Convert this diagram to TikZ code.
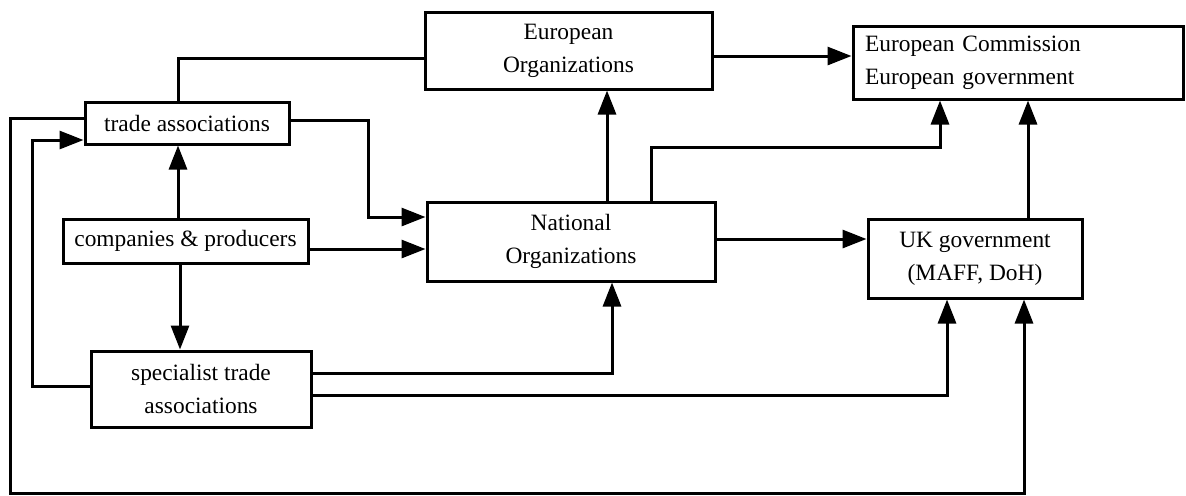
\documentclass[tikz,border=0pt]{standalone}
\usepackage{fontspec}
\setmainfont{Liberation Serif}
\usetikzlibrary{arrows.meta}

\begin{document}
\begin{tikzpicture}[x=0.5pt,y=-0.5pt,
                box/.style={draw=black,line width=1.5pt,fill=white,align=center,inner sep=2pt,
                  font=\fontsize{11.7}{16.5}\selectfont},
                arr/.style={line width=1.5pt,-{Triangle[length=12pt,width=9pt]}},
                link/.style={line width=1.5pt}
            ]
                \useasboundingbox (0,0) rectangle (1186,495);
                \node[box,minimum width=143.5pt,minimum height=38.5pt] (eorg) at (568.5,50.5) {European\\Organizations};
                \node[box,minimum height=36.5pt,text width=153pt,inner xsep=6pt,align=left] (ecomm) at (1018,62.5) {European Commission\\European government};
                \node[box,minimum width=102pt,minimum height=21pt] (trade) at (187,123) {trade associations};
                \node[box,minimum width=122.5pt,minimum height=22pt] (comp) at (185.5,241) {companies \& producers};
                \node[box,minimum width=144pt,minimum height=39.5pt] (natorg) at (571,241.5) {National\\Organizations};
                \node[box,minimum width=107pt,minimum height=39.5pt] (ukgov) at (975,258.5) {UK government\\(MAFF, DoH)};
                \node[box,minimum width=110pt,minimum height=38pt] (spec) at (201,389) {specialist trade\\associations};

                \draw[link] (trade.north -| 178,0) |- (eorg.west |- 0,58);
                \draw[arr] (trade.east |- 0,120) -| (368,217) -- (natorg.west |- 0,217);
                \draw[arr] (comp.north -| 178,0) -- (trade.south -| 178,0);
                \draw[arr] (comp.east |- 0,249) -- (natorg.west |- 0,249);
                \draw[arr] (comp.south -| 180,0) -- (spec.north -| 180,0);
                \draw[arr] (spec.west |- 0,386) -| (32,140) -- (trade.west |- 0,140);
                \draw[arr] (trade.west |- 0,118) -| (10,493) -| (ukgov.south -| 1024,0);
                \draw[arr] (spec.east |- 0,373) -| (natorg.south -| 612,0);
                \draw[arr] (spec.east |- 0,395) -| (ukgov.south -| 947,0);
                \draw[arr] (natorg.north -| 607,0) -- (eorg.south -| 607,0);
                \draw[arr] (natorg.north -| 651,0) |- (940,147) -- (ecomm.south -| 940,0);
                \draw[arr] (eorg.east |- 0,56) -- (ecomm.west |- 0,56);
                \draw[arr] (natorg.east |- 0,239) -- (ukgov.west |- 0,239);
                \draw[arr] (ukgov.north -| 1028,0) -- (ecomm.south -| 1028,0);

            \end{tikzpicture}
\end{document}
